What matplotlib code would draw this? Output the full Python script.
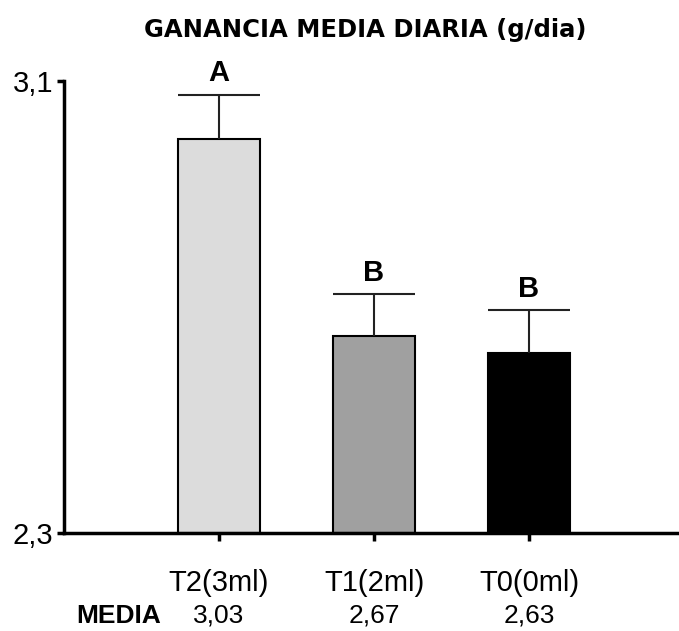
import matplotlib.pyplot as plt
import matplotlib.transforms as mtransforms

# ======================================================
# DATA
# ======================================================
labels = ["T2(3ml)", "T1(2ml)", "T0(0ml)"]
means = [2.997, 2.649, 2.618]
err_up = [0.079, 0.074, 0.077]
letters = ["A", "B", "B"]
media_txt = ["3,03", "2,67", "2,63"]
colors = ["#dcdcdc", "#a0a0a0", "#000000"]

FONT = ["Liberation Sans Narrow", "Liberation Sans", "DejaVu Sans"]
BAR_W = 0.53

# ======================================================
# FIGURE
# ======================================================
fig = plt.figure(figsize=(6.79, 6.31), dpi=100)
# axes runs past the right edge so the x axis line reaches the border
ax = fig.add_axes([0.0943, 0.1553, 0.98, 0.7163])
px_per_unit = 155 / 679  # bar spacing as fraction of figure width

x = list(range(len(labels)))
ax.bar(x, [m - 2.3 for m in means], bottom=2.3, width=BAR_W,
       color=colors, edgecolor="black", linewidth=1.5, zorder=2)

# upper error bars, cap as wide as the bar
tops = [m + e for m, e in zip(means, err_up)]
ax.vlines(x, means, tops, color="#222222", linewidth=1.5, zorder=3)
ax.hlines(tops, [i - BAR_W / 2 for i in x], [i + BAR_W / 2 for i in x],
          color="#222222", linewidth=1.5, zorder=3)

for i, t, l in zip(x, tops, letters):
    ax.annotate(l, (i, t), xytext=(0, 9.5), textcoords="offset points",
                ha="center", va="baseline", fontsize=21, fontweight="bold",
                family=FONT)

ax.set_xlim(-1.0, -1.0 + 0.98 / px_per_unit)
ax.set_ylim(2.3, 3.1)

for s in ["top", "right"]:
    ax.spines[s].set_visible(False)
ax.spines["left"].set_linewidth(2.5)
ax.spines["bottom"].set_linewidth(2.5)

ax.set_yticks([2.3, 3.1])
ax.set_yticklabels(["2,3", "3,1"], family=FONT, fontsize=21)
ax.tick_params(axis="y", length=5, width=2.5, pad=3)

ax.set_xticks(x)
ax.set_xticklabels(labels, family=FONT, fontsize=21)
ax.tick_params(axis="x", length=6, width=2.5, pad=20)

# MEDIA row under the tick labels
trans = mtransforms.blended_transform_factory(ax.transData, fig.transFigure)
ax.text(-0.65, 0.013, "MEDIA", transform=trans, ha="center", va="baseline",
        fontsize=19, fontweight="bold", family=FONT, clip_on=False)
for i, t in zip(x, media_txt):
    ax.text(i, 0.013, t, transform=trans, ha="center", va="baseline",
            fontsize=19, family=FONT, clip_on=False)

fig.text(0.5376, 0.952, "GANANCIA MEDIA DIARIA (g/dia)", ha="center",
         va="center", fontsize=17.5, fontweight="bold", family="DejaVu Sans")

fig.savefig("out.png", dpi=100)
plt.close(fig)
